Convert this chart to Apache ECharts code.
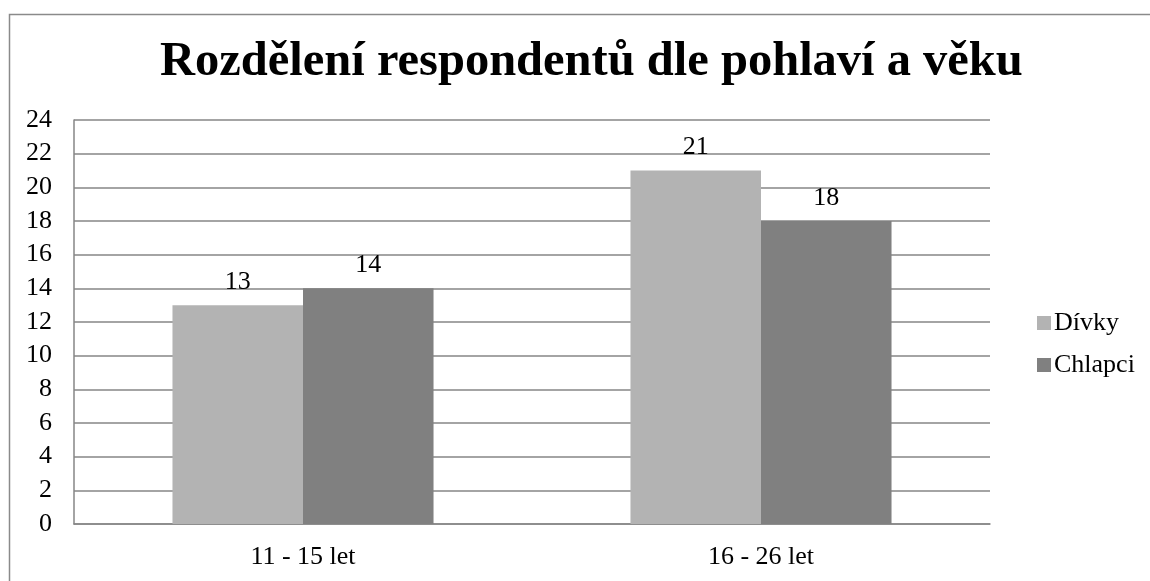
<!DOCTYPE html>
<html>
<head>
<meta charset="utf-8">
<script src="https://cdn.jsdelivr.net/npm/echarts@6/dist/echarts.min.js"></script>
<style>
html,body{margin:0;padding:0;background:#fff;}
#chart{width:1150px;height:581px;}
</style>
</head>
<body>
<div id="chart"></div>
<script>
const titleText = 'Rozdělení respondentů dle pohlaví a věku';
const categories = ['11 - 15 let', '16 - 26 let'];
const seriesNames = ['Dívky', 'Chlapci'];
const divky = [13, 21];
const chlapci = [14, 18];
const yMin = 0, yMax = 24, yStep = 2;

const FONT = '"Liberation Serif", "Times New Roman", serif';
const chart = echarts.init(document.getElementById('chart'), null, {renderer: 'canvas'});
chart.setOption({
  backgroundColor: '#fff',
  animation: false,
  graphic: [{
    type: 'rect', left: 7, top: 12,
    shape: {width: 1300, height: 700},
    style: {fill: 'none', stroke: '#8a8a8a', lineWidth: 1.5},
    silent: true
  }],
  title: {
    text: titleText,
    left: 155,
    top: 33,
    textStyle: {fontFamily: FONT, fontWeight: 'bold', fontSize: 48.5, color: '#000'}
  },
  legend: {
    orient: 'vertical',
    left: 1032,
    top: 305,
    itemWidth: 14,
    itemHeight: 14,
    itemGap: 16,
    icon: 'rect',
    textStyle: {fontFamily: FONT, fontSize: 26, color: '#000', padding: [0, 0, 0, -2]},
    data: seriesNames
  },
  grid: {left: 74, right: 160, top: 120, bottom: 57, containLabel: false},
  xAxis: {
    type: 'category',
    data: categories,
    axisLine: {show: true, lineStyle: {color: '#868686', width: 1.5}},
    axisTick: {show: false},
    axisLabel: {fontFamily: FONT, fontSize: 26, color: '#000', margin: 20}
  },
  yAxis: {
    type: 'value',
    min: yMin, max: yMax, interval: yStep,
    axisLine: {show: true, lineStyle: {color: '#868686', width: 1.5}},
    axisTick: {show: false},
    splitLine: {lineStyle: {color: '#868686', width: 1.5}},
    axisLabel: {fontFamily: FONT, fontSize: 26, color: '#000', margin: 22}
  },
  series: [
    {
      name: seriesNames[0], type: 'bar', data: divky,
      barGap: '0%', barCategoryGap: '43%',
      itemStyle: {color: '#b3b3b3'},
      label: {show: true, position: 'top', distance: 10, fontFamily: FONT, fontSize: 26, color: '#000'}
    },
    {
      name: seriesNames[1], type: 'bar', data: chlapci,
      barGap: '0%', barCategoryGap: '43%',
      itemStyle: {color: '#808080'},
      label: {show: true, position: 'top', distance: 10, fontFamily: FONT, fontSize: 26, color: '#000'}
    }
  ]
});
</script>
</body>
</html>
